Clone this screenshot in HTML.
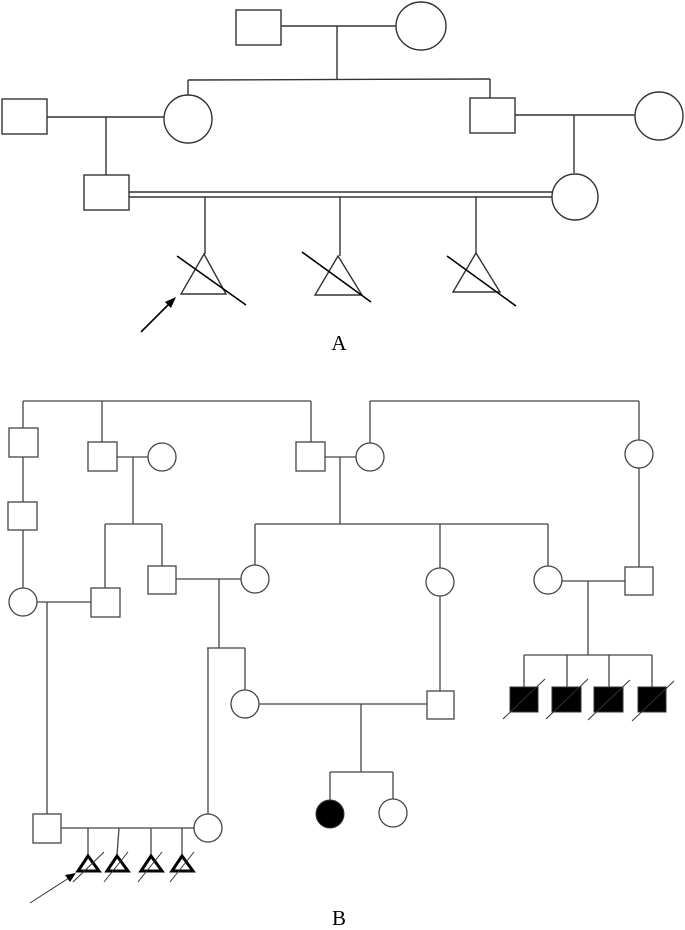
<!DOCTYPE html>
<html><head><meta charset="utf-8"><style>html,body{margin:0;padding:0;background:#fff}</style></head>
<body>
<svg width="685" height="925" viewBox="0 0 685 925" xmlns="http://www.w3.org/2000/svg">
<g fill="none" stroke="#333" stroke-width="1.4">
<!-- Part A -->
<rect x="236" y="10" width="45" height="35"/>
<ellipse cx="421" cy="26" rx="25" ry="24"/>
<line x1="281" y1="26" x2="396" y2="26"/>
<line x1="337" y1="26" x2="337" y2="80"/>
<line x1="188" y1="80" x2="490" y2="79"/>
<line x1="188" y1="80" x2="188" y2="95"/>
<line x1="490" y1="79" x2="490" y2="98"/>
<rect x="2" y="99" width="45" height="35"/>
<ellipse cx="188" cy="119" rx="24" ry="24"/>
<line x1="47" y1="117" x2="164" y2="117"/>
<line x1="106" y1="117" x2="106" y2="175"/>
<rect x="470" y="98" width="45" height="35"/>
<ellipse cx="659" cy="116" rx="24" ry="24"/>
<line x1="515" y1="115" x2="635" y2="115"/>
<line x1="574" y1="115" x2="574" y2="173"/>
<rect x="84" y="175" width="45" height="35"/>
<ellipse cx="575" cy="197" rx="23" ry="23"/>
<line x1="129" y1="192" x2="552" y2="192"/>
<line x1="129" y1="197" x2="552" y2="197"/>
<line x1="205" y1="197" x2="205" y2="254"/>
<line x1="340" y1="197" x2="340" y2="256"/>
<line x1="476" y1="197" x2="476" y2="253"/>
<polygon points="204,254 181,294 226,294"/>
<polygon points="338,256 315,295 362,295"/>
<polygon points="476,253 453,292 500,292"/>
</g>
<g stroke="#000" stroke-width="1.6">
<line x1="177" y1="256" x2="246" y2="305"/>
<line x1="302" y1="252" x2="371" y2="302"/>
<line x1="447" y1="256" x2="516" y2="306"/>
<line x1="141" y1="332" x2="172" y2="301"/>
</g>
<polygon points="176,297 165,302 171,308" fill="#000"/>
<text x="339" y="350" font-family="Liberation Serif, serif" font-size="21" text-anchor="middle">A</text>

<!-- Part B -->
<g fill="none" stroke="#444" stroke-width="1.3">
<line x1="23" y1="401" x2="311" y2="401"/>
<line x1="23" y1="401" x2="23" y2="428"/>
<line x1="102" y1="401" x2="102" y2="442"/>
<line x1="311" y1="401" x2="311" y2="442"/>
<rect x="9" y="428" width="29" height="29"/>
<line x1="23" y1="457" x2="23" y2="502"/>
<rect x="8" y="502" width="29" height="28"/>
<line x1="23" y1="530" x2="23" y2="588"/>
<ellipse cx="23" cy="602" rx="14" ry="14"/>
<line x1="37" y1="602" x2="91" y2="602"/>
<rect x="91" y="588" width="29" height="29"/>
<line x1="47" y1="602" x2="47" y2="814"/>
<rect x="33" y="814" width="28" height="29"/>
<rect x="88" y="442" width="29" height="29"/>
<ellipse cx="162" cy="457" rx="14" ry="14"/>
<line x1="117" y1="457" x2="148" y2="457"/>
<line x1="133" y1="457" x2="133" y2="524"/>
<line x1="105" y1="524" x2="162" y2="524"/>
<line x1="105" y1="524" x2="105" y2="588"/>
<line x1="162" y1="524" x2="162" y2="566"/>
<rect x="148" y="566" width="28" height="28"/>
<ellipse cx="255" cy="579" rx="14" ry="14"/>
<line x1="176" y1="579" x2="241" y2="579"/>
<line x1="219" y1="579" x2="219" y2="648"/>
<line x1="207" y1="648" x2="245" y2="648"/>
<line x1="208" y1="648" x2="208" y2="814"/>
<line x1="245" y1="648" x2="245" y2="690"/>
<ellipse cx="208" cy="828" rx="14" ry="14"/>
<ellipse cx="245" cy="704" rx="14" ry="14"/>
<rect x="296" y="442" width="29" height="29"/>
<ellipse cx="370" cy="457" rx="14" ry="14"/>
<line x1="325" y1="457" x2="356" y2="457"/>
<line x1="340" y1="457" x2="340" y2="524"/>
<line x1="255" y1="524" x2="548" y2="524"/>
<line x1="255" y1="524" x2="255" y2="565"/>
<line x1="440" y1="524" x2="440" y2="568"/>
<line x1="548" y1="524" x2="548" y2="566"/>
<ellipse cx="440" cy="582" rx="14" ry="14"/>
<ellipse cx="548" cy="580" rx="14" ry="14"/>
<line x1="370" y1="443" x2="370" y2="401"/>
<line x1="370" y1="401" x2="639" y2="401"/>
<line x1="639" y1="401" x2="639" y2="440"/>
<ellipse cx="639" cy="454" rx="14" ry="14"/>
<line x1="639" y1="468" x2="639" y2="567"/>
<rect x="625" y="567" width="28" height="28"/>
<line x1="562" y1="581" x2="625" y2="581"/>
<line x1="588" y1="581" x2="588" y2="655"/>
<line x1="524" y1="655" x2="652" y2="655"/>
<line x1="524" y1="655" x2="524" y2="687"/>
<line x1="567" y1="655" x2="567" y2="687"/>
<line x1="609" y1="655" x2="609" y2="687"/>
<line x1="652" y1="655" x2="652" y2="687"/>
<line x1="440" y1="596" x2="440" y2="691"/>
<rect x="427" y="691" width="27" height="28"/>
<line x1="259" y1="704" x2="427" y2="704"/>
<line x1="361" y1="704" x2="361" y2="772"/>
<line x1="330" y1="772" x2="393" y2="772"/>
<line x1="330" y1="772" x2="330" y2="800"/>
<line x1="393" y1="772" x2="393" y2="799"/>
<ellipse cx="393" cy="813" rx="14" ry="14"/>
<line x1="61" y1="828" x2="194" y2="828"/>
<line x1="88" y1="828" x2="88" y2="855"/>
<line x1="119" y1="828" x2="117" y2="855"/>
<line x1="151" y1="828" x2="151" y2="855"/>
<line x1="182" y1="828" x2="182" y2="855"/>
</g>
<g fill="#000" stroke="#333" stroke-width="1">
<rect x="510" y="687" width="28" height="25"/>
<rect x="552" y="687" width="29" height="25"/>
<rect x="594" y="687" width="29" height="25"/>
<rect x="638" y="687" width="28" height="25"/>
<ellipse cx="330" cy="814" rx="14" ry="14"/>
</g>
<g stroke="#333" stroke-width="1">
<line x1="503" y1="719" x2="545" y2="679"/>
<line x1="546" y1="719" x2="588" y2="679"/>
<line x1="588" y1="720" x2="630" y2="680"/>
<line x1="632" y1="721" x2="674" y2="681"/>
</g>
<g fill="none" stroke="#000" stroke-width="3">
<polygon points="88,856 78,871 99,871"/>
<polygon points="117,856 107,871 128,871"/>
<polygon points="151,856 141,871 162,871"/>
<polygon points="182,856 172,871 193,871"/>
</g>
<g stroke="#333" stroke-width="1">
<line x1="73" y1="882" x2="104" y2="852"/>
<line x1="104" y1="882" x2="128" y2="852"/>
<line x1="138" y1="882" x2="162" y2="852"/>
<line x1="170" y1="882" x2="194" y2="852"/>
<line x1="30" y1="903" x2="72" y2="876"/>
</g>
<polygon points="76,873 65,875 70,882" fill="#000"/>
<text x="339" y="925" font-family="Liberation Serif, serif" font-size="21" text-anchor="middle">B</text>
</svg>
</body></html>
